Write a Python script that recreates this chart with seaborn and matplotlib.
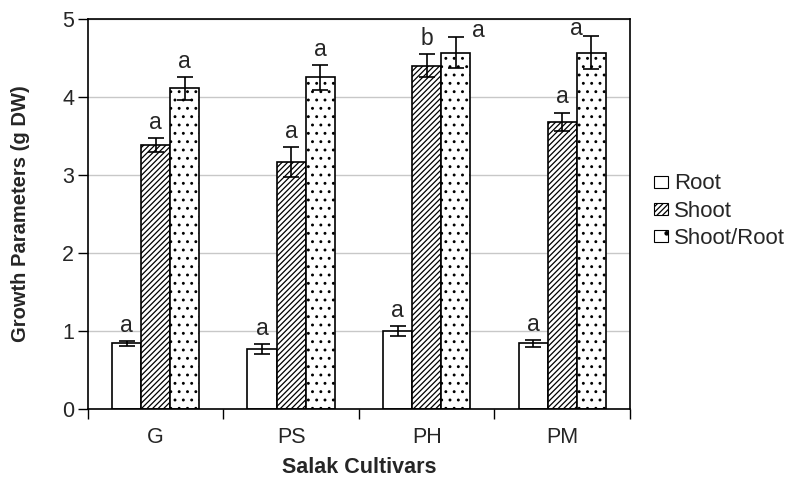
import numpy as np
import pandas as pd
import matplotlib
matplotlib.use("Agg")
import matplotlib.pyplot as plt
import seaborn as sns
from matplotlib.patches import Patch

# Valores
cultivares = ["G", "PS", "PH", "PM"]
parametros = ["Root", "Shoot", "Shoot/Root"]
root = [0.84, 0.77, 1.00, 0.84]
shoot = [3.38, 3.17, 4.40, 3.68]
shoot_root = [4.11, 4.25, 4.57, 4.57]
err_root = [0.035, 0.06, 0.06, 0.04]
err_shoot = [0.09, 0.19, 0.15, 0.12]
err_shoot_root = [0.15, 0.16, 0.20, 0.21]
letras_root = ["a", "a", "a", "a"]
letras_shoot = ["a", "a", "b", "a"]
letras_shoot_root = ["a", "a", "a", "a"]

df = pd.DataFrame({
    "Cultivar": cultivares * 3,
    "Parametro": sum([[p] * 4 for p in parametros], []),
    "Valor": root + shoot + shoot_root,
})
erros = [err_root, err_shoot, err_shoot_root]
letras = [letras_root, letras_shoot, letras_shoot_root]
valores = [root, shoot, shoot_root]

sns.set_style("white")
plt.rcParams["font.family"] = ["Liberation Sans", "DejaVu Sans"]
plt.rcParams["hatch.linewidth"] = 0.9
plt.rcParams["hatch.color"] = "#3a3a3a"

fig = plt.figure(figsize=(7.85, 4.8), dpi=100)
ax = fig.add_axes([0.112, 0.148, 0.6905, 0.8125])

sns.barplot(data=df, x="Cultivar", y="Valor", hue="Parametro", order=cultivares,
            hue_order=parametros, palette=["white"] * 3, width=0.645, gap=0,
            edgecolor="black", linewidth=1.2, errorbar=None, legend=False, ax=ax)

hachuras = ["", "//////", ".."]
barras_por_grupo = list(ax.containers)
for i, cont in enumerate(barras_por_grupo):
    for j, barra in enumerate(cont.patches):
        barra.set_hatch(hachuras[i])
        barra.set_edgecolor("black")
        barra.set_facecolor("white")
        xc = barra.get_x() + barra.get_width() / 2
        topo = valores[i][j] + erros[i][j]
        ax.errorbar(xc, valores[i][j], yerr=erros[i][j], fmt="none",
                    ecolor="black", elinewidth=1.2, capsize=6, capthick=1.2, zorder=5)
        # rótulos de letras
        if i == 2 and j == 2:
            ax.annotate(letras[i][j], (xc, topo), xytext=(16, -3.5), textcoords="offset points",
                        ha="center", va="bottom", fontsize=16.5)
        elif i == 2 and j == 3:
            ax.annotate(letras[i][j], (xc, topo), xytext=(-11, -3), textcoords="offset points",
                        ha="center", va="bottom", fontsize=16.5)
        else:
            ax.annotate(letras[i][j], (xc, topo), xytext=(0, 3), textcoords="offset points",
                        ha="center", va="bottom", fontsize=16.5)

ax.set_xlim(-0.5, 3.5)
ax.set_ylim(0, 5)
ax.set_yticks(range(0, 6))
ax.yaxis.grid(True, color="#c8c8c8", linewidth=1)
ax.set_axisbelow(True)

ax.set_xticks(np.arange(-0.5, 4, 1))
ax.set_xticklabels([])
ax.set_xticks(range(4), minor=True)
ax.set_xticklabels(cultivares, minor=True)
ax.tick_params(axis="x", which="major", direction="out", length=7, width=1, bottom=True, color="black")
ax.tick_params(axis="x", which="minor", length=0, pad=13, labelsize=15.5)
ax.tick_params(axis="y", direction="out", length=7, width=1, left=True, color="black", labelsize=15.5, pad=3)

for lado in ["left", "right", "top", "bottom"]:
    ax.spines[lado].set_visible(True)
    ax.spines[lado].set_color("black")
    ax.spines[lado].set_linewidth(1.2)

ax.set_xlabel("Salak Cultivars", fontsize=15.5, fontweight="bold")
ax.set_ylabel("Growth Parameters (g DW)", fontsize=14.5, fontweight="bold")
ax.xaxis.set_label_coords(0.5, -0.122)
ax.yaxis.set_label_coords(-0.106, 0.5)

alcas = [Patch(facecolor="white", edgecolor="black", hatch=h, linewidth=0.8) for h in ["", "//////", "."]]
fig.legend(alcas, parametros, loc="center left", bbox_to_anchor=(0.808, 0.56), frameon=False,
           fontsize=16, handlelength=0.6, handleheight=0.45, handletextpad=0.3, labelspacing=0.28)

fig.savefig("out.png", dpi=100)
